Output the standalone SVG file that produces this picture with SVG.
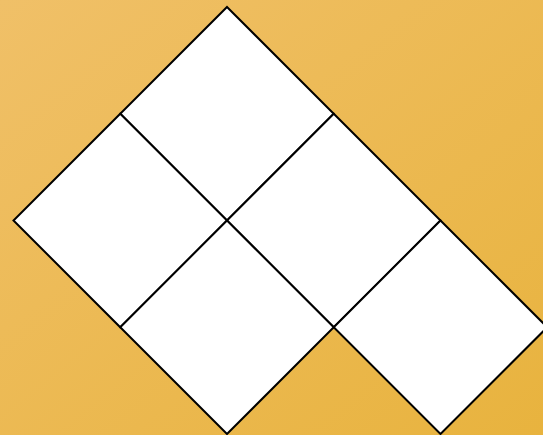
<svg xmlns="http://www.w3.org/2000/svg" width="543" height="435" viewBox="0 0 543 435">
<defs>
<linearGradient id="bg" x1="0" y1="0" x2="1" y2="1">
<stop offset="0" stop-color="#F0C068"/>
<stop offset="1" stop-color="#E8B33E"/>
</linearGradient>
<style>.sq{fill:#FFFFFF;stroke:#000000;stroke-width:2;stroke-linejoin:miter}</style>
</defs>
<rect x="0" y="0" width="543" height="435" fill="url(#bg)"/>
<g id="sq-top"><polygon class="sq" points="227,7 333.75,113.75 227,220.5 120.25,113.75"/></g>
<g id="sq-left"><polygon class="sq" points="120.25,113.75 227,220.5 120.25,327.25 13.5,220.5"/></g>
<g id="sq-mid"><polygon class="sq" points="333.75,113.75 440.5,220.5 333.75,327.25 227,220.5"/></g>
<g id="sq-bottom"><polygon class="sq" points="227,220.5 333.75,327.25 227,434 120.25,327.25"/></g>
<g id="sq-right"><polygon class="sq" points="440.5,220.5 547.25,327.25 440.5,434 333.75,327.25"/></g>
<g id="connectors"></g>
</svg>
